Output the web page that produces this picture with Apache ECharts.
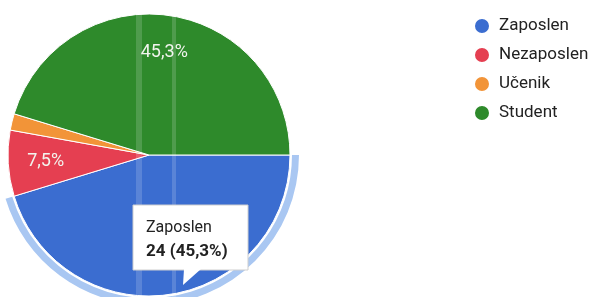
<!DOCTYPE html>
<html>
<head>
<meta charset="utf-8">
<script src="https://cdn.jsdelivr.net/npm/echarts@6/dist/echarts.min.js"></script>
<style>
  html, body { margin: 0; padding: 0; background: #fff; }
  #chart { width: 602px; height: 297px; }
</style>
</head>
<body>
<div id="chart"></div>
<script>
// data (53 answers)
const categories = ["Zaposlen", "Nezaposlen", "Učenik", "Student"];
const counts = [24, 4, 1, 24];
const colors = ["#3b6dd0", "#e53f51", "#f29438", "#2e8a2b"];
const showLabel = [true, true, false, true];
const hovered = 0; // slice with the tooltip

(function() {
    let chart = echarts.init(document.getElementById("chart"));
    let total = counts.reduce((a, b) => a + b, 0);

    function pct(v) {
        return (v / total * 100).toFixed(1).replace(".", ",") + "%";
    }

    let center = [149, 155];
    let font = "Roboto, 'Liberation Sans', Arial, sans-serif";

    let mainData = categories.map((name, i) => ({
        name: name,
        value: counts[i],
        itemStyle: { color: colors[i] }
    }));

    let labelData = categories.map((name, i) => ({
        name: name,
        value: counts[i],
        itemStyle: { color: "transparent" },
        label: { show: showLabel[i] }
    }));

    let ringData = categories.map((name, i) => ({
        name: name,
        value: counts[i],
        itemStyle: { color: i === hovered ? "#a9c7f2" : "transparent" }
    }));

    let tipText = "{a|" + categories[hovered] + "}\n{b|" + counts[hovered] + " (" + pct(counts[hovered]) + ")}";

    let option = {
        animation: false,
        legend: {
            orient: "vertical",
            left: 473,
            top: 17,
            padding: 0,
            itemWidth: 24,
            itemHeight: 16,
            itemGap: 11,
            icon: "circle",
            data: categories,
            textStyle: { fontSize: 17, color: "#222", fontFamily: font }
        },
        series: [{
                type: "pie",
                center: center,
                radius: [0, 141],
                startAngle: 0,
                silent: true,
                label: { show: false },
                labelLine: { show: false },
                itemStyle: { borderColor: "#fff", borderWidth: 1 },
                data: mainData
            },
            {
                // transparent copy only to place the % labels further out
                type: "pie",
                center: center,
                radius: [60, 141],
                startAngle: 0,
                silent: true,
                label: {
                    position: "inside",
                    color: "#f2f4ee",
                    fontSize: 18,
                    fontFamily: font,
                    formatter: p => pct(p.value)
                },
                labelLine: { show: false },
                data: labelData
            },
            {
                // light ring around the hovered slice
                type: "pie",
                center: center,
                radius: [143, 150],
                startAngle: 0,
                silent: true,
                label: { show: false },
                labelLine: { show: false },
                data: ringData
            }
        ],
        graphic: [{
                type: "rect",
                shape: { x: 136, y: 0, width: 6, height: 297 },
                style: { fill: "rgba(255,255,255,0.16)" },
                z: 50
            },
            {
                type: "rect",
                shape: { x: 172, y: 0, width: 4, height: 297 },
                style: { fill: "rgba(255,255,255,0.16)" },
                z: 50
            },
            {
                type: "rect",
                shape: { x: 133, y: 205, width: 115, height: 65 },
                style: { fill: "#fff", stroke: "#cfcfcf", lineWidth: 1 },
                z: 100
            },
            {
                type: "polygon",
                shape: { points: [[184, 269], [201, 269], [183, 285]] },
                style: { fill: "#fff" },
                z: 101
            },
            {
                type: "text",
                x: 146,
                y: 216,
                style: {
                    text: tipText,
                    fill: "#222",
                    font: "16px " + font,
                    rich: {
                        a: { fontSize: 16, fontFamily: font, lineHeight: 24, fill: "#222" },
                        b: { fontSize: 17, fontFamily: font, fontWeight: "bold", lineHeight: 24, fill: "#222" }
                    }
                },
                z: 102
            }
        ]
    };

    chart.setOption(option);
}());
</script>
</body>
</html>
